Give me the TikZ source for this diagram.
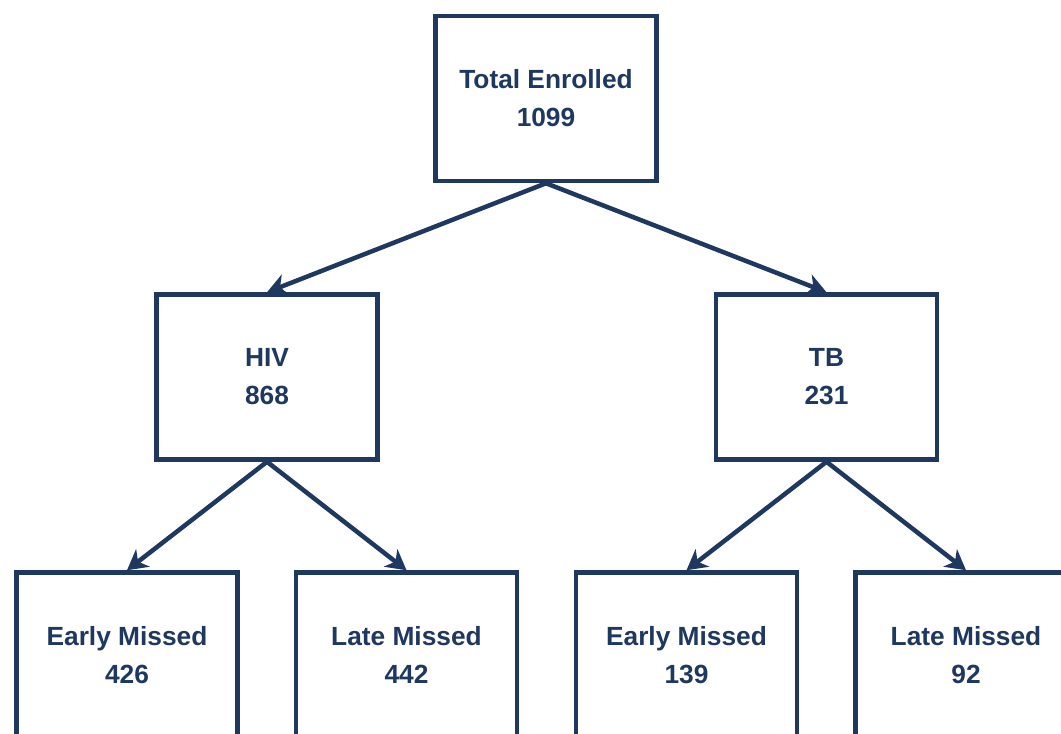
\documentclass[tikz,border=0pt]{standalone}
\usepackage{fontspec}
\setmainfont{Liberation Sans}
\usetikzlibrary{arrows.meta}
\definecolor{navy}{RGB}{30,56,96}
\tikzset{
  box/.style={draw=navy, line width=4.5pt, minimum width=221pt, minimum height=165pt, inner sep=0pt,
    align=center, text=navy, font=\fontsize{26.3}{38}\selectfont\bfseries, fill=white},
  conn/.style={draw=navy, line width=4.5pt, -{Stealth[length=20pt,width=22pt,inset=6pt]}}
}
\begin{document}
\begin{tikzpicture}[x=1pt,y=-1pt]
\useasboundingbox (0,0) rectangle (1061,734);
\clip (0,0) rectangle (1061,734);
\fill[white] (0,0) rectangle (1061,734);
\node[box] (top) at (546,98.5) {Total Enrolled\\1099};
\node[box] (hiv) at (267,377) {HIV\\868};
\node[box] (tb) at (826.5,377) {TB\\231};
\node[box] (he) at (127,655) {Early Missed\\426};
\node[box] (hl) at (406.5,655) {Late Missed\\442};
\node[box] (te) at (686.5,655) {Early Missed\\139};
\node[box] (tl) at (966,655) {Late Missed\\92};
\draw[conn] (top.south) -- (hiv.north);
\draw[conn] (top.south) -- (tb.north);
\draw[conn] (hiv.south) -- (he.north);
\draw[conn] (hiv.south) -- (hl.north);
\draw[conn] (tb.south) -- (te.north);
\draw[conn] (tb.south) -- (tl.north);
\end{tikzpicture}
\end{document}
